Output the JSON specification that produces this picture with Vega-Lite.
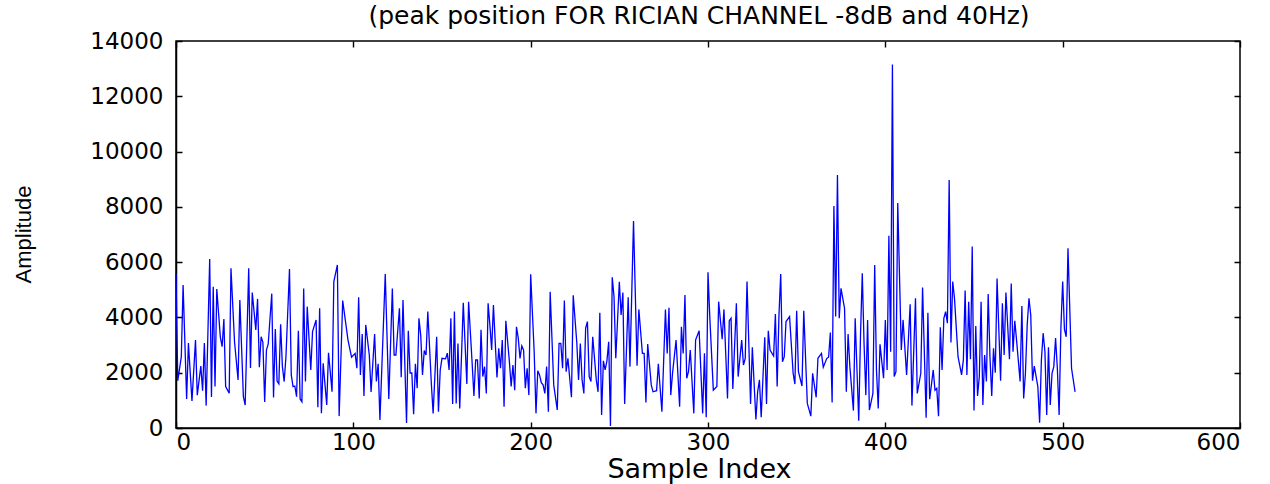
{
  "$schema": "https://vega.github.io/schema/vega-lite/v6.json",
  "width": 1064,
  "height": 387,
  "autosize": "none",
  "padding": {"left": 176, "top": 41, "right": 30, "bottom": 56},
  "background": "white",
  "config": {
    "view": {"stroke": "black", "strokeWidth": 1.5},
    "font": "DejaVu Sans",
    "axis": {"labelColor": "black", "labelFont": "DejaVu Sans", "labelFontSize": 23, "domainColor": "black", "domainWidth": 1.5, "ticks": false, "grid": true, "gridColor": "black", "gridOpacity": 1, "gridWidth": 1.4, "titleColor": "black", "titleFontWeight": "normal"}
  },
  "title": {"text": "(peak position FOR RICIAN CHANNEL -8dB and 40Hz)", "fontSize": 25, "font": "DejaVu Sans", "fontWeight": "normal", "color": "black", "anchor": "middle", "offset": 1, "dx": -9},
  "data": {"values": [
    {"i":0,"v":5600},{"i":1,"v":1710},{"i":3,"v":2580},{"i":4,"v":5170},{"i":6,"v":1050},{"i":7,"v":3070},{"i":9,"v":980},{"i":11,"v":3180},{"i":12,"v":1190},{"i":14,"v":2240},{"i":15,"v":1350},{"i":16,"v":3070},{"i":17,"v":810},{"i":19,"v":6110},{"i":20,"v":1120},{"i":21,"v":5110},{"i":22,"v":1500},{"i":23,"v":5030},{"i":25,"v":3290},{"i":26,"v":2940},{"i":27,"v":3940},{"i":28,"v":1500},{"i":30,"v":1260},{"i":31,"v":5780},{"i":33,"v":3120},{"i":35,"v":1740},{"i":36,"v":4630},{"i":38,"v":1130},{"i":39,"v":830},{"i":41,"v":5780},{"i":42,"v":2170},{"i":43,"v":4900},{"i":45,"v":3550},{"i":46,"v":4670},{"i":47,"v":2200},{"i":48,"v":3300},{"i":49,"v":3100},{"i":50,"v":940},{"i":51,"v":2820},{"i":52,"v":3040},{"i":54,"v":4860},{"i":55,"v":1100},{"i":56,"v":3580},{"i":57,"v":1700},{"i":58,"v":1600},{"i":59,"v":3750},
    {"i":60,"v":2220},{"i":61,"v":1680},{"i":62,"v":2580},{"i":64,"v":5750},{"i":65,"v":1920},{"i":66,"v":1500},{"i":67,"v":1520},{"i":68,"v":1130},{"i":69,"v":3520},{"i":70,"v":1050},{"i":71,"v":950},{"i":72,"v":5050},{"i":73,"v":1680},{"i":74,"v":4390},{"i":76,"v":2100},{"i":77,"v":3490},{"i":79,"v":3910},{"i":80,"v":750},{"i":81,"v":4330},{"i":82,"v":530},{"i":83,"v":2340},{"i":85,"v":830},{"i":86,"v":2720},{"i":88,"v":1310},{"i":89,"v":5300},{"i":91,"v":5900},{"i":92,"v":430},{"i":94,"v":4610},{"i":97,"v":3180},{"i":99,"v":2560},{"i":101,"v":2700},{"i":102,"v":2160},{"i":103,"v":4730},{"i":104,"v":1920},{"i":105,"v":3400},{"i":106,"v":1160},{"i":107,"v":3730},{"i":109,"v":2640},{"i":110,"v":1300},{"i":112,"v":3400},{"i":113,"v":1680},{"i":114,"v":2320},{"i":115,"v":290},{"i":118,"v":5570},
    {"i":120,"v":1050},{"i":122,"v":5050},{"i":123,"v":2640},{"i":124,"v":2640},{"i":126,"v":4330},{"i":127,"v":1840},{"i":128,"v":4630},{"i":130,"v":180},{"i":131,"v":3520},{"i":132,"v":1990},{"i":133,"v":1990},{"i":134,"v":500},{"i":135,"v":2320},{"i":136,"v":1440},{"i":137,"v":3970},{"i":138,"v":3360},{"i":139,"v":1920},{"i":140,"v":2800},{"i":141,"v":2640},{"i":142,"v":4210},{"i":144,"v":1590},{"i":145,"v":530},{"i":147,"v":3300},{"i":148,"v":590},{"i":149,"v":2100},{"i":150,"v":2520},{"i":152,"v":2500},{"i":153,"v":2710},{"i":154,"v":2100},{"i":155,"v":3970},{"i":156,"v":870},{"i":157,"v":4210},{"i":158,"v":890},{"i":159,"v":3060},{"i":160,"v":710},{"i":162,"v":4530},{"i":164,"v":1590},{"i":165,"v":4570},{"i":167,"v":2340},{"i":168,"v":1160},{"i":169,"v":2460},{"i":170,"v":2460},{"i":171,"v":1070},{"i":172,"v":3550},{"i":173,"v":1860},{"i":174,"v":2220},{"i":175,"v":1250},{"i":176,"v":4510},{"i":177,"v":3730},{"i":178,"v":2820},{"i":179,"v":4450},
    {"i":181,"v":1830},{"i":182,"v":2880},{"i":183,"v":2160},{"i":184,"v":3180},{"i":185,"v":770},{"i":186,"v":3880},{"i":188,"v":2400},{"i":189,"v":1500},{"i":190,"v":2280},{"i":191,"v":1370},{"i":192,"v":3660},{"i":193,"v":3250},{"i":194,"v":2520},{"i":195,"v":2970},{"i":196,"v":2820},{"i":197,"v":1440},{"i":198,"v":2160},{"i":199,"v":1190},{"i":200,"v":5560},{"i":202,"v":2720},{"i":203,"v":530},{"i":204,"v":2070},{"i":205,"v":1920},{"i":206,"v":1640},{"i":207,"v":1560},{"i":208,"v":1250},{"i":209,"v":2220},{"i":210,"v":590},{"i":211,"v":4930},{"i":213,"v":1560},{"i":215,"v":650},{"i":216,"v":3060},{"i":217,"v":3060},{"i":218,"v":2160},{"i":219,"v":4610},{"i":220,"v":2040},{"i":221,"v":2520},{"i":223,"v":1110},{"i":224,"v":4800},{"i":226,"v":3100},{"i":227,"v":1740},{"i":228,"v":3060},{"i":229,"v":1740},{"i":230,"v":1250},{"i":231,"v":3610},{"i":232,"v":3850},{"i":233,"v":1860},{"i":234,"v":1680},{"i":235,"v":3300},{"i":237,"v":1740},{"i":238,"v":1310},{"i":239,"v":4170},
    {"i":240,"v":470},{"i":241,"v":2430},{"i":242,"v":2100},{"i":243,"v":2430},{"i":244,"v":3120},{"i":245,"v":70},{"i":246,"v":5450},{"i":247,"v":4760},{"i":248,"v":2520},{"i":250,"v":5290},{"i":251,"v":4090},{"i":252,"v":4900},{"i":253,"v":870},{"i":255,"v":4730},{"i":256,"v":2220},{"i":258,"v":7490},{"i":260,"v":2250},{"i":261,"v":4290},{"i":263,"v":2700},{"i":264,"v":2700},{"i":265,"v":920},{"i":266,"v":3040},{"i":268,"v":1560},{"i":269,"v":1310},{"i":271,"v":1350},{"i":272,"v":2320},{"i":274,"v":590},{"i":276,"v":4290},{"i":277,"v":2700},{"i":278,"v":4350},{"i":279,"v":1190},{"i":280,"v":1980},{"i":282,"v":3180},{"i":284,"v":770},{"i":285,"v":3660},{"i":286,"v":2700},{"i":287,"v":4810},{"i":288,"v":1800},{"i":289,"v":2040},{"i":290,"v":2820},{"i":292,"v":530},{"i":293,"v":3180},{"i":295,"v":3520},{"i":297,"v":530},{"i":298,"v":2700},{"i":299,"v":390},
    {"i":300,"v":5630},{"i":301,"v":4030},{"i":303,"v":1370},{"i":305,"v":1500},{"i":306,"v":4570},{"i":308,"v":3210},{"i":309,"v":4290},{"i":311,"v":1070},{"i":312,"v":3880},{"i":313,"v":3970},{"i":314,"v":1410},{"i":316,"v":4510},{"i":317,"v":1860},{"i":319,"v":3180},{"i":320,"v":2280},{"i":321,"v":2520},{"i":322,"v":5300},{"i":324,"v":870},{"i":325,"v":2920},{"i":327,"v":310},{"i":328,"v":1310},{"i":329,"v":1740},{"i":330,"v":390},{"i":332,"v":3280},{"i":333,"v":870},{"i":334,"v":3520},{"i":335,"v":2820},{"i":337,"v":2600},{"i":338,"v":4120},{"i":339,"v":1500},{"i":340,"v":4050},{"i":341,"v":5570},{"i":342,"v":2400},{"i":343,"v":2580},{"i":344,"v":3850},{"i":346,"v":4030},{"i":348,"v":1980},{"i":349,"v":1590},{"i":350,"v":4240},{"i":351,"v":2040},{"i":353,"v":1520},{"i":354,"v":4240},{"i":356,"v":890},{"i":358,"v":430},{"i":359,"v":1980},
    {"i":361,"v":1110},{"i":362,"v":2520},{"i":364,"v":2700},{"i":365,"v":2200},{"i":367,"v":2520},{"i":368,"v":2560},{"i":369,"v":3450},{"i":370,"v":920},{"i":371,"v":8030},{"i":372,"v":4030},{"i":373,"v":9150},{"i":374,"v":3970},{"i":375,"v":5050},{"i":377,"v":4330},{"i":378,"v":1310},{"i":379,"v":3400},{"i":380,"v":2220},{"i":382,"v":630},{"i":383,"v":3970},{"i":385,"v":260},{"i":386,"v":3360},{"i":387,"v":5600},{"i":388,"v":3060},{"i":389,"v":1190},{"i":390,"v":3910},{"i":391,"v":650},{"i":393,"v":1250},{"i":394,"v":5900},{"i":395,"v":2100},{"i":396,"v":710},{"i":397,"v":3030},{"i":399,"v":1800},{"i":400,"v":3910},{"i":401,"v":2100},{"i":402,"v":6950},{"i":403,"v":2760},{"i":404,"v":13150},{"i":405,"v":1860},{"i":406,"v":2040},{"i":407,"v":8140},{"i":409,"v":2820},{"i":410,"v":3910},{"i":412,"v":1920},{"i":414,"v":4480},{"i":415,"v":810},{"i":417,"v":4690},{"i":418,"v":1250},
    {"i":420,"v":1980},{"i":421,"v":5080},{"i":423,"v":370},{"i":424,"v":4170},{"i":425,"v":1040},{"i":427,"v":2100},{"i":428,"v":1370},{"i":429,"v":1440},{"i":430,"v":430},{"i":431,"v":3640},{"i":432,"v":2100},{"i":433,"v":3970},{"i":434,"v":4210},{"i":435,"v":3790},{"i":436,"v":8970},{"i":437,"v":3090},{"i":438,"v":5300},{"i":439,"v":4690},{"i":441,"v":2580},{"i":443,"v":1920},{"i":444,"v":2460},{"i":445,"v":4970},{"i":446,"v":1920},{"i":447,"v":4570},{"i":448,"v":2490},{"i":449,"v":6570},{"i":450,"v":630},{"i":451,"v":3690},{"i":452,"v":1160},{"i":453,"v":1860},{"i":454,"v":4570},{"i":455,"v":830},{"i":456,"v":2640},{"i":457,"v":1680},{"i":458,"v":4850},{"i":459,"v":2580},{"i":460,"v":1160},{"i":461,"v":2880},{"i":462,"v":2000},{"i":463,"v":5410},{"i":465,"v":1710},{"i":466,"v":4510},{"i":467,"v":2640},{"i":468,"v":4900},{"i":470,"v":2490},{"i":471,"v":5230},{"i":472,"v":2760},{"i":473,"v":3880},{"i":474,"v":3180},{"i":476,"v":1680},{"i":477,"v":4410},{"i":478,"v":1070},{"i":479,"v":1980},
    {"i":480,"v":3730},{"i":481,"v":4690},{"i":482,"v":4090},{"i":483,"v":1710},{"i":484,"v":2240},{"i":486,"v":1500},{"i":487,"v":190},{"i":488,"v":2460},{"i":489,"v":3430},{"i":490,"v":2760},{"i":491,"v":470},{"i":492,"v":2920},{"i":493,"v":830},{"i":494,"v":1980},{"i":495,"v":2220},{"i":496,"v":3250},{"i":497,"v":2160},{"i":498,"v":470},{"i":499,"v":3610},{"i":500,"v":5300},{"i":501,"v":3570},{"i":502,"v":3300},{"i":503,"v":6500},{"i":505,"v":2160},{"i":507,"v":1310}
  ]},
  "mark": {"type": "line", "color": "#0000ff", "strokeWidth": 1.3},
  "encoding": {
    "x": {"field": "i", "type": "quantitative", "scale": {"domain": [0, 600], "nice": false, "zero": false},
      "axis": {"orient": "bottom", "values": [0, 100, 200, 300, 400, 500, 600], "format": "d", "labelPadding": 3, "gridDash": [6, 375, 6, 2000], "title": "Sample Index", "titleFont": "DejaVu Sans", "titleFontSize": 27, "titleX": 523, "titleY": 41, "titleBaseline": "middle"}},
    "y": {"field": "v", "type": "quantitative", "scale": {"domain": [0, 14000], "nice": false},
      "axis": {"orient": "left", "values": [0, 2000, 4000, 6000, 8000, 10000, 12000, 14000], "format": "d", "labelPadding": 13, "gridDash": [6, 1052, 6, 2000], "title": "Amplitude", "titleFont": "Liberation Sans", "titleFontSize": 22, "titleAngle": -90, "titleX": -153, "titleY": 193, "titleBaseline": "middle", "titleAlign": "center"}}
  }
}
